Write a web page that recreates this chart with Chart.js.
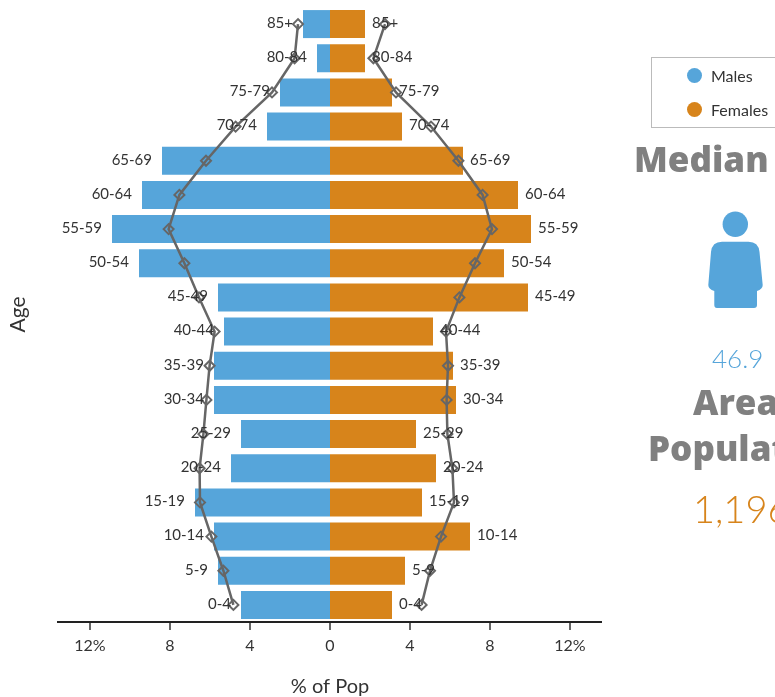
<!DOCTYPE html>
<html><head><meta charset="utf-8">
<script src="https://cdn.jsdelivr.net/npm/chart.js@4"></script>
<style>
html,body{margin:0;padding:0;background:#fff;overflow:hidden;width:775px;height:697px;font-family:Lato,sans-serif}
#wrap{position:relative;width:775px;height:697px;overflow:hidden}
canvas{position:absolute;left:0;top:0}
.t{position:absolute;white-space:nowrap;line-height:1}
.head{color:#808080;font-family:"Open Sans",sans-serif;font-weight:800;font-size:35px}
#legend{position:absolute;left:651px;top:57px;width:140px;height:69px;border:1.5px solid #bbb;box-sizing:content-box}
.li{position:absolute;left:35px;height:16px;color:#333;font-size:16px;line-height:15px;padding-left:24px;white-space:nowrap}
.li i{position:absolute;left:0;top:0;width:15px;height:15px;border-radius:50%}
</style></head><body>
<div id="wrap">
<canvas id="c" width="775" height="697"></canvas>
<div id="legend"></div>
<div class="t head" style="left:634px;top:141px">Median Age</div>
<svg style="position:absolute;left:700px;top:205px" width="70" height="110" viewBox="700 205 70 110">
<circle cx="735.3" cy="224.3" r="12.7" fill="#56A5DA"/>
<path fill="#56A5DA" d="M722 241.7 H748.5 Q758.5 241.7 759.5 252 L762.7 285 Q762.7 289 757 291 V305 Q757 308 754 308 H717 Q714.3 308 714.3 305 V291 Q708.3 289 708.3 285 L711 252 Q712 241.7 722 241.7 Z"/>
</svg>
<div class="t" style="left:712px;top:345px;font-size:26px;font-weight:300;color:#56A5DA">46.9</div>
<div class="t head" style="left:693px;top:384px">Area</div>
<div class="t head" style="left:648px;top:430px">Population</div>
<div class="t" style="left:693px;top:489px;font-size:38px;font-weight:300;color:#D7841B">1,196</div>
</div>
<script>
const ageGroups = ['85+','80-84','75-79','70-74','65-69','60-64','55-59','50-54','45-49','40-44','35-39','30-34','25-29','20-24','15-19','10-14','5-9','0-4'];
const malesPct = [1.35,0.65,2.5,3.15,8.4,9.4,10.9,9.55,5.6,5.3,5.8,5.8,4.45,4.95,6.75,5.8,5.6,4.45];
const femalesPct = [1.75,1.75,3.1,3.6,6.65,9.4,10.05,8.7,9.9,5.15,6.15,6.3,4.3,5.3,4.6,7.0,3.75,3.1];
const malesCompare = [1.6,1.77,2.9,4.72,6.2,7.53,8.07,7.28,6.55,5.77,6.02,6.18,6.33,6.52,6.5,5.93,5.33,4.83];
const femalesCompare = [2.75,2.17,3.3,5.05,6.42,7.63,8.1,7.25,6.47,5.8,5.9,5.83,5.87,6.12,6.2,5.55,5.0,4.58];
const xTickValues = [-12,-8,-4,0,4,8,12];
const BLUE='#56A5DA', ORANGE='#D7841B', LINE='#666666', INK='#333333';
const FONT='Lato, sans-serif';

const barLabels = {
  id:'barLabels',
  afterDatasetsDraw(chart){
    const {ctx,scales:{x,y}}=chart;
    ctx.save();
    ctx.font='15px '+FONT; ctx.fillStyle=INK; ctx.textBaseline='middle';
    ageGroups.forEach((g,i)=>{
      const py=y.getPixelForValue(i)-1;
      ctx.textAlign='right'; ctx.fillText(g,x.getPixelForValue(-malesPct[i])-10,py);
      ctx.textAlign='left'; ctx.fillText(g,x.getPixelForValue(femalesPct[i])+7,py);
    });
    ctx.restore();
  }
};

const lineStyle={type:'line',indexAxis:'y',order:1,borderColor:LINE,borderWidth:2.5,pointStyle:'rectRot',pointRadius:5,
  pointBorderColor:LINE,pointBorderWidth:2,pointBackgroundColor:'rgba(0,0,0,0)',tension:0,fill:false};

const chart=new Chart(document.getElementById('c'),{
  type:'bar',
  plugins:[barLabels],
  data:{labels:ageGroups,datasets:[
    {label:'Males',data:malesPct.map(v=>-v),backgroundColor:BLUE,order:2,grouped:false,barPercentage:0.82,categoryPercentage:1},
    {label:'Females',data:femalesPct,backgroundColor:ORANGE,order:2,grouped:false,barPercentage:0.82,categoryPercentage:1},
    {label:'Males (comparison)',data:malesCompare.map(v=>-v),...lineStyle},
    {label:'Females (comparison)',data:femalesCompare,...lineStyle}
  ]},
  options:{
    indexAxis:'y',responsive:false,animation:false,devicePixelRatio:1,
    layout:{padding:{top:7,right:173,left:0,bottom:0}},
    plugins:{legend:{display:false},tooltip:{enabled:false}},
    scales:{
      x:{type:'linear',min:-13.6,max:13.6,
        afterBuildTicks(s){s.ticks=xTickValues.map(v=>({value:v}));},
        afterFit(s){s.height=75;},
        grid:{drawOnChartArea:false,drawTicks:true,tickLength:8,lineWidth:0,tickWidth:1.5,tickColor:'#333'},
        border:{display:true,color:'#222',width:2},
        ticks:{color:INK,font:{family:FONT,size:16},padding:6,maxRotation:0,autoSkip:false,
          callback(v){const a=Math.abs(v);return a===12?'12%':String(a);}},
        title:{display:true,text:'% of Pop',color:INK,font:{family:FONT,size:20,lineHeight:1},padding:{top:17,bottom:0}}
      },
      y:{type:'category',
        afterFit(s){s.width=58;},
        grid:{display:false},border:{display:false},
        ticks:{display:false},
        title:{display:true,text:'Age',color:INK,font:{family:FONT,size:21},padding:{top:6,bottom:0}}
      }
    }
  }
});

const legendEl=document.getElementById('legend');
chart.data.datasets.slice(0,2).forEach((d,i)=>{
  const row=document.createElement('div');
  row.className='li'; row.style.top=(10+i*34)+'px';
  const dot=document.createElement('i'); dot.style.background=d.backgroundColor;
  row.appendChild(dot); row.appendChild(document.createTextNode(d.label));
  legendEl.appendChild(row);
});
</script>
</body></html>
